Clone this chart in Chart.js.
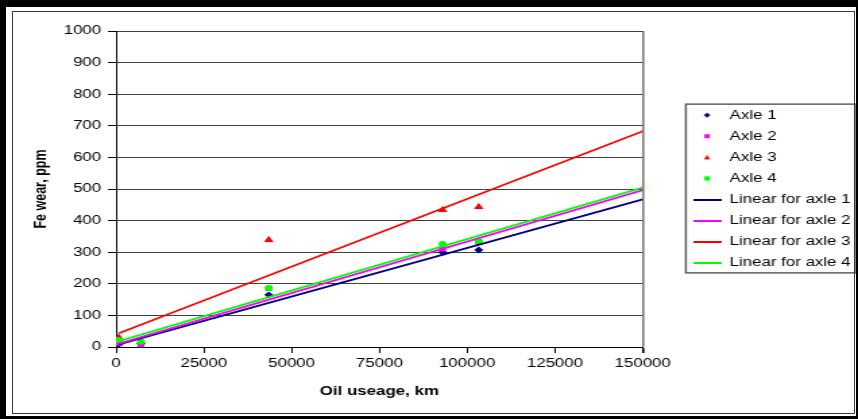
<!DOCTYPE html>
<html><head><meta charset="utf-8">
<script src="https://cdn.jsdelivr.net/npm/chart.js@4.4.1/dist/chart.umd.min.js"></script>
<style>
html,body{margin:0;padding:0;background:#fff;}
body{width:858px;height:419px;overflow:hidden;position:relative;}
#outer{position:absolute;left:0;top:0;width:858px;height:419px;box-sizing:border-box;border-style:solid;border-color:#000;border-width:7px 2px 3px 6px;z-index:2;pointer-events:none}
#inner{position:absolute;left:12px;top:11px;width:843px;height:403px;box-sizing:border-box;border:1px solid #3a3a3a;z-index:2;pointer-events:none}
#wrap{position:absolute;left:0;top:0;width:660px;height:419px;transform:scaleX(1.34906);transform-origin:0 0;z-index:1}
</style></head><body>
<div id="wrap"><canvas id="c"></canvas></div>
<div id="outer"></div><div id="inner"></div>
<script>
// ---- data ----
const kmValues = [800, 7100, 43500, 93000, 103300];
const axle1 = [8, 12, 165, 300, 307];
const axle2 = [12, 8, 185, 310, 332];
const axle3 = [30, 15, 339, 434, 443];
const axle4 = [22, 17, 187, 326, 335];
const seriesNames = ['Axle 1', 'Axle 2', 'Axle 3', 'Axle 4'];
const trendNames = ['Linear for axle 1', 'Linear for axle 2', 'Linear for axle 3', 'Linear for axle 4'];
const trendForecastTo = 150000;
const xTicks = [0, 25000, 50000, 75000, 100000, 125000, 150000];
const yTicks = [0, 100, 200, 300, 400, 500, 600, 700, 800, 900, 1000];
const xTitle = 'Oil useage, km';
const yTitle = 'Fe wear, ppm';

const colors = ['#000080', '#FF00FF', '#FF0000', '#00FF00'];
const markers = ['rectRot', 'rect', 'triangle', 'circle'];
const markerRadius = [3.4, 3.6, 4.2, 3];
const allSeries = [axle1, axle2, axle3, axle4];

function linFit(xs, ys) {
  const n = xs.length;
  const mx = xs.reduce((a, b) => a + b, 0) / n;
  const my = ys.reduce((a, b) => a + b, 0) / n;
  let sxy = 0, sxx = 0;
  for (let i = 0; i < n; i++) { sxy += (xs[i] - mx) * (ys[i] - my); sxx += (xs[i] - mx) * (xs[i] - mx); }
  const m = sxy / sxx;
  return { m, b: my - m * mx };
}

function makeIcon(kind, color) {
  const c = document.createElement('canvas');
  if (kind === 'line') {
    c.width = 21; c.height = 2;
    const x = c.getContext('2d'); x.fillStyle = color; x.fillRect(0, 0, 21, 2);
    return c;
  }
  c.width = 8; c.height = 8;
  const x = c.getContext('2d');
  x.fillStyle = color; x.beginPath();
  if (kind === 'rectRot') { x.moveTo(4, 1.5); x.lineTo(6.5, 4); x.lineTo(4, 6.5); x.lineTo(1.5, 4); x.closePath(); }
  else if (kind === 'rect') { x.rect(2, 2, 4, 4); }
  else if (kind === 'triangle') { x.moveTo(4, 1.6); x.lineTo(6.3, 6); x.lineTo(1.7, 6); x.closePath(); }
  else { x.arc(4, 4, 2.4, 0, Math.PI * 2); }
  x.fill();
  return c;
}

const datasets = [];
const icons = [];
allSeries.forEach((ys, i) => {
  datasets.push({
    label: seriesNames[i],
    data: kmValues.map((k, j) => ({ x: k, y: ys[j] })),
    pointStyle: markers[i], pointRadius: markerRadius[i], pointBorderWidth: 0,
    backgroundColor: colors[i], borderColor: colors[i], showLine: false,
    order: 8 - i
  });
  icons.push(makeIcon(markers[i], colors[i]));
});
allSeries.forEach((ys, i) => {
  const f = linFit(kmValues, ys);
  const x0 = Math.min(...kmValues);
  datasets.push({
    label: trendNames[i],
    data: [{ x: x0, y: f.m * x0 + f.b }, { x: trendForecastTo, y: f.m * trendForecastTo + f.b }],
    showLine: true, pointRadius: 0, borderWidth: 1.8,
    borderColor: colors[i], backgroundColor: colors[i],
    order: 4 - i
  });
  icons.push(makeIcon('line', colors[i]));
});

Chart.defaults.font.family = '"Liberation Sans", Arial, sans-serif';
Chart.defaults.font.size = 12.5;
Chart.defaults.color = '#000';

const legendBox = {
  id: 'legendBox',
  afterDraw(chart) {
    const hb = chart.legend && chart.legend.legendHitBoxes;
    if (!hb || !hb.length) return;
    const left = Math.min(...hb.map(h => h.left)) - 5.2;
    const right = Math.max(...hb.map(h => h.left + h.width)) + 3.7;
    const top = hb[0].top + hb[0].height / 2 - 11;
    const last = hb[hb.length - 1];
    const bottom = last.top + last.height / 2 + 10;
    const ctx = chart.ctx;
    ctx.save();
    ctx.strokeStyle = '#606060';
    ctx.lineWidth = 1.5;
    ctx.strokeRect(left, top, right - left, bottom - top);
    ctx.restore();
  }
};

new Chart(document.getElementById('c'), {
  type: 'scatter',
  data: { datasets },
  options: {
    responsive: true, maintainAspectRatio: false, animation: false,
    layout: { padding: { top: 31, left: 10, bottom: 15.5, right: 19.5 } },
    plugins: {
      tooltip: { enabled: false },
      legend: {
        position: 'right', fullSize: false, maxWidth: 220,
        labels: {
          usePointStyle: true, pointStyleWidth: 21, padding: 8.6, color: '#000',
          font: { size: 12.5 },
          generateLabels: chart => chart.data.datasets.map((ds, i) => ({
            text: ds.label, pointStyle: icons[i], fillStyle: colors[i % 4], strokeStyle: colors[i % 4],
            lineWidth: 0, hidden: false, datasetIndex: i, fontColor: '#000'
          }))
        }
      }
    },
    scales: {
      x: {
        type: 'linear', position: 'bottom', min: 0, max: 150000,
        afterBuildTicks: s => { s.ticks = xTicks.map(v => ({ value: v })); },
        afterFit: s => { s.height = 56.5; },
        ticks: { padding: 3, autoSkip: false, maxRotation: 0, callback: (v, i) => String(xTicks[i]), font: { size: 12.5 } },
        grid: {
          drawOnChartArea: true, drawTicks: true, tickLength: 6, tickColor: '#000',
          color: c => (c.tick && c.tick.value === 150000) ? '#808080' : 'rgba(0,0,0,0)',
          lineWidth: c => (c.tick && c.tick.value === 150000) ? 1.6 : 1
        },
        border: { display: true, color: '#000', width: 1 },
        title: { display: true, text: xTitle, font: { size: 12.5, weight: 'bold' }, padding: { top: 0, bottom: 4 } }
      },
      y: {
        type: 'linear', position: 'left', min: 0, max: 1000,
        afterBuildTicks: s => { s.ticks = yTicks.map(v => ({ value: v })); },
        afterFit: s => { s.width = 76; },
        ticks: { padding: 5, autoSkip: false, callback: (v, i) => String(yTicks[i]), font: { size: 12.5 } },
        grid: { color: '#404040', lineWidth: 1, tickLength: 6, tickColor: '#000' },
        border: { display: true, color: '#000', width: 1 },
        title: { display: true, text: yTitle, font: { size: 12.5, weight: 'bold' }, padding: { top: 13, bottom: 0 } }
      },
      gap: {
        type: 'linear', position: 'right', display: true,
        grid: { display: false, drawTicks: false }, border: { display: false },
        ticks: { display: false },
        afterFit: s => { s.width = 28.6; }
      }
    }
  },
  plugins: [legendBox]
});
</script>
</body></html>
